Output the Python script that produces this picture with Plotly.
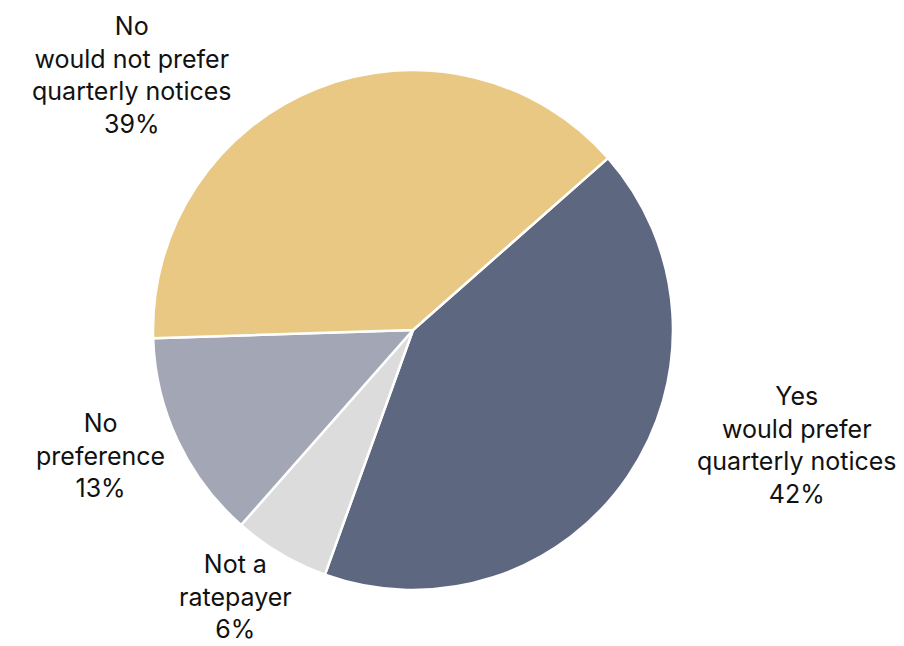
import plotly.graph_objects as go

labels = ["Yes<br>would prefer<br>quarterly notices", "Not a<br>ratepayer",
          "No<br>preference", "No<br>would not prefer<br>quarterly notices"]
values = [42, 6, 13, 39]
colors = ["#5d6780", "#dcdcdc", "#a3a6b5", "#e9c883"]

# label anchor points (pixel centres of each text block)
label_px = [(797, 445), (235, 596), (100, 455), (132, 75)]

W, H = 904, 646
FONT = "Inter, Liberation Sans, Arial, sans-serif"

fig = go.Figure(go.Pie(
    labels=labels,
    values=values,
    sort=False,
    direction="clockwise",
    rotation=48.6,
    marker=dict(colors=colors, line=dict(color="white", width=2.5)),
    textinfo="none",
    showlegend=False,
    hoverinfo="label+percent",
    domain=dict(x=[0.1692, 0.7445], y=[0.0867, 0.8916]),
))

for lab, val, (px, py) in zip(labels, values, label_px):
    fig.add_annotation(
        x=px / W, y=1 - py / H, xref="paper", yref="paper",
        text=f"{lab}<br>{val}%", showarrow=False,
        xanchor="center", yanchor="middle", align="center",
        borderpad=0,
        font=dict(family=FONT, size=25, color="#111111"),
    )

fig.update_layout(
    width=W, height=H,
    margin=dict(l=0, r=0, t=0, b=0),
    paper_bgcolor="white",
    plot_bgcolor="white",
)

fig.write_html("out.html")
